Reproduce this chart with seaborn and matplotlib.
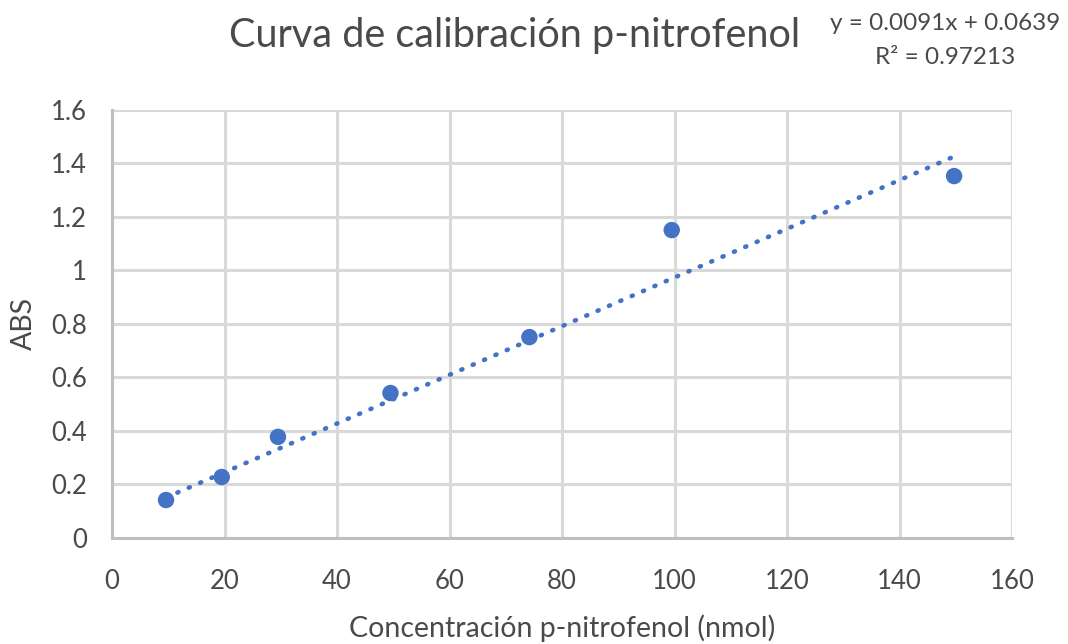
import numpy as np
import pandas as pd
import matplotlib
matplotlib.use('Agg')
import matplotlib.pyplot as plt
import seaborn as sns

# datos
concentracion = [9.6, 19.5, 29.5, 49.5, 74.2, 99.5, 149.7]
absorbancia = [0.142, 0.228, 0.378, 0.542, 0.751, 1.151, 1.353]
pendiente = 0.0091
intercepto = 0.0639
r2 = 0.97213
x_ticks = [0, 20, 40, 60, 80, 100, 120, 140, 160]
y_ticks = [0, 0.2, 0.4, 0.6, 0.8, 1, 1.2, 1.4, 1.6]
y_tick_labels = ['0', '0.2', '0.4', '0.6', '0.8', '1', '1.2', '1.4', '1.6']

sns.set_style('white')
plt.rcParams['font.family'] = ['Lato', 'DejaVu Sans']

azul = '#4472C4'
gris = '#D9D9D9'
texto = '#4a4a4a'

df = pd.DataFrame({'conc': concentracion, 'abs': absorbancia})
# linea de tendencia (ecuacion mostrada en la grafica)
x_lin = [min(concentracion), max(concentracion)]
tend = pd.DataFrame({'conc': x_lin, 'abs': [pendiente * x + intercepto for x in x_lin]})

fig = plt.figure(figsize=(10.68, 6.44), dpi=100)
ax = fig.add_axes([0.1049, 0.1646, 0.8427, 0.6646])

sns.scatterplot(data=df, x='conc', y='abs', ax=ax, color=azul, s=140,
                edgecolor='none', zorder=3)
sns.lineplot(data=tend, x='conc', y='abs', ax=ax, color=azul, lw=3.3,
             linestyle=(0, (0.25, 2.45)), dash_capstyle='round', zorder=2)

ax.set_xlim(0, 160)
ax.set_ylim(0, 1.6)
ax.set_xticks(x_ticks)
ax.set_yticks(y_ticks)
ax.set_yticklabels(y_tick_labels)
ax.grid(True, color=gris, lw=2.2)
ax.set_axisbelow(True)
for lado in ['top', 'right']:
    ax.spines[lado].set_visible(False)
for lado in ['left', 'bottom']:
    ax.spines[lado].set_color('#BFBFBF')
    ax.spines[lado].set_linewidth(2.2)
ax.tick_params(axis='both', length=0, labelsize=18.5, labelcolor=texto)
ax.tick_params(axis='x', pad=22)
ax.tick_params(axis='y', pad=18)

ax.set_xlabel('Concentración p-nitrofenol (nmol)', fontsize=20.5, color=texto, labelpad=15)
ax.set_ylabel('ABS', fontsize=20.5, color=texto, labelpad=10)

fig.text(0.482, 0.945, 'Curva de calibración p-nitrofenol', fontsize=28.5,
         color=texto, ha='center', va='center')
fig.text(0.885, 0.964, f'y = {pendiente}x + {intercepto}', fontsize=17.5,
         color=texto, ha='center', va='center')
fig.text(0.885, 0.910, f'R² = {r2}', fontsize=17.5,
         color=texto, ha='center', va='center')

fig.savefig('out.png', dpi=100)
